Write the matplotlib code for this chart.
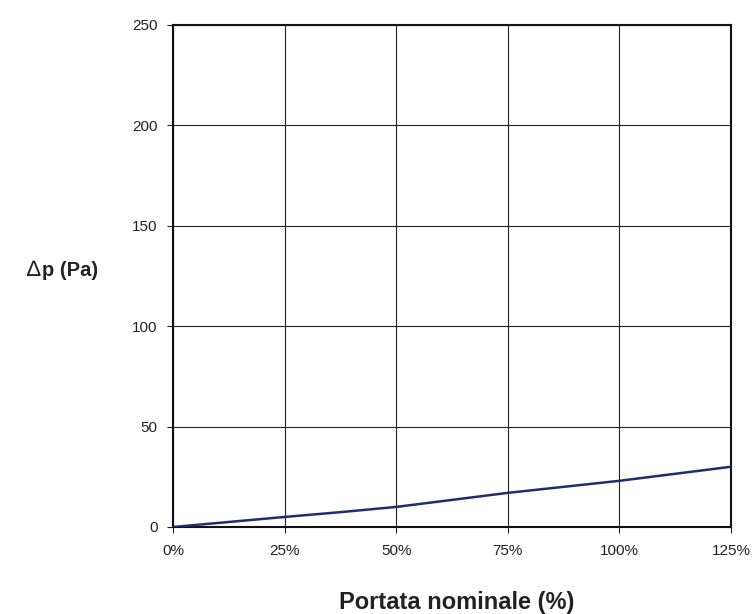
import matplotlib.pyplot as plt

plt.rcParams['font.family'] = ['Liberation Sans', 'DejaVu Sans']

portata = [0, 12.5, 25, 37.5, 50, 62.5, 75, 87.5, 100, 112.5, 125]
dp = [0, 2.5, 5, 7.4, 10, 13.5, 17, 20, 23, 26.5, 30]
x_ticks = [0, 25, 50, 75, 100, 125]
x_labels = ['0%', '25%', '50%', '75%', '100%', '125%']
y_ticks = [0, 50, 100, 150, 200, 250]

fig = plt.figure(figsize=(7.53, 6.14), dpi=100)
ax = fig.add_axes([173/753, 1-527/614, 558/753, 502/614])

ax.plot(portata, dp, color='#1f2d6e', lw=1.8, solid_capstyle='round', zorder=3)

ax.set_xlim(0, 125)
ax.set_ylim(0, 250)
ax.set_xticks(x_ticks)
ax.set_xticklabels(x_labels)
ax.set_yticks(y_ticks)
ax.grid(True, color='#222222', lw=0.8)
for s in ax.spines.values():
    s.set_linewidth(1.5)
    s.set_color('#111111')
ax.tick_params(axis='both', direction='out', length=4, width=0.8,
               labelsize=11, colors='#222222')
ax.tick_params(axis='x', pad=8)
ax.tick_params(axis='y', pad=7)

# delta drawn in normal weight, the rest bold, like the original
fig.text(27/753, 1-276/614, '∆', fontsize=16, ha='left', va='baseline',
         color='#222222')
fig.text(42/753, 1-276/614, 'p (Pa)', fontsize=14.5, fontweight='bold',
         ha='left', va='baseline', color='#222222')
fig.text(457/753, 1-602/614, 'Portata nominale (%)', fontsize=17,
         fontweight='bold', ha='center', va='center', color='#222222')

fig.savefig('out.png', dpi=100)
